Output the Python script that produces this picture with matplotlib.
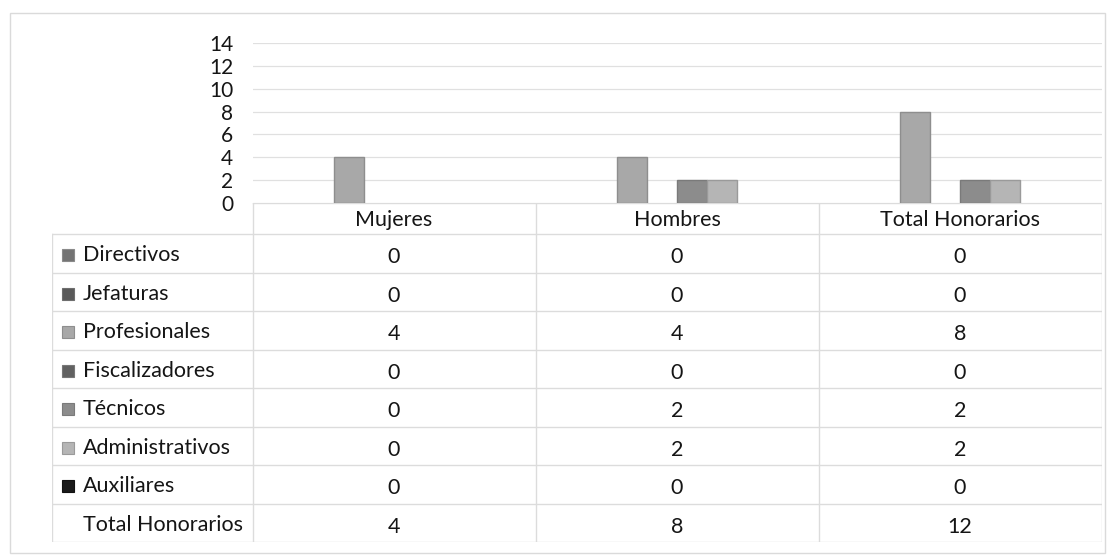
import numpy as np
import matplotlib
matplotlib.use("Agg")
import matplotlib.pyplot as plt
from matplotlib.patches import Rectangle

plt.rcParams['font.family'] = ['Lato', 'DejaVu Sans']

CATEGORIAS = ["Mujeres", "Hombres", "Total Honorarios"]
SERIES = ["Directivos", "Jefaturas", "Profesionales", "Fiscalizadores",
          "Técnicos", "Administrativos", "Auxiliares", "Total Honorarios"]

DIRECTIVOS = [0, 0, 0]
JEFATURAS = [0, 0, 0]
PROFESIONALES = [4, 4, 8]
FISCALIZADORES = [0, 0, 0]
TECNICOS = [0, 2, 2]
ADMINISTRATIVOS = [0, 2, 2]
AUXILIARES = [0, 0, 0]
TOTAL_HONORARIOS = [4, 8, 12]

Y_TICKS = [0, 2, 4, 6, 8, 10, 12, 14]

valores = [DIRECTIVOS, JEFATURAS, PROFESIONALES, FISCALIZADORES,
           TECNICOS, ADMINISTRATIVOS, AUXILIARES, TOTAL_HONORARIOS]
# colores de relleno (None = serie sin barra visible)
colores = ["#737373", "#595959", "#a8a8a8", "#616161",
           "#8c8c8c", "#b5b5b5", "#1a1a1a", None]
bordes = ["#8a8a8a", "#6e6e6e", "#8e8e8e", "#777777",
          "#7a7a7a", "#9a9a9a", "#111111", None]

FS = 15.5
TXT = "#151515"

W, H = 1115, 556
fig = plt.figure(figsize=(W / 100, H / 100), dpi=100)

# marco exterior del grafico
fig.patches.append(Rectangle((10 / W, 1 - 553 / H), 1095 / W, 540 / H,
                             transform=fig.transFigure, fill=False,
                             edgecolor="#dadada", linewidth=1))

# area de barras
x0, x1 = 252.5, 1101.5
y_top, y_bot = 43, 203
ax = fig.add_axes([x0 / W, 1 - y_bot / H, (x1 - x0) / W, (y_bot - y_top) / H])
n = len(SERIES)
ancho = 1 / (n + 1.5)
x = np.arange(len(CATEGORIAS))
for i, (vals, c, e) in enumerate(zip(valores, colores, bordes)):
    if c is None:
        continue
    vals = np.array(vals, dtype=float)
    lw = np.where(vals > 0, 1.0, 0.0)
    ax.bar(x + (i - (n - 1) / 2) * ancho, vals, width=ancho, color=c,
           edgecolor=e, linewidth=lw, zorder=3)
ax.set_xlim(-0.5, len(CATEGORIAS) - 0.5)
ax.set_ylim(0, 14)
ax.set_yticks(Y_TICKS)
ax.set_xticks([])
ax.tick_params(axis='y', length=0, pad=14, labelsize=15, labelcolor=TXT)
ax.yaxis.grid(True, color="#e0e0e0", linewidth=0.9)
ax.set_axisbelow(True)
for s in ax.spines.values():
    s.set_visible(False)

# tabla de datos
t_left, t_bot = 52, 542
fila = (t_bot - 234) / len(SERIES)
cab = (234 - y_bot) / fila
u = (x1 - x0) / len(CATEGORIAS)
xl = -0.5 - (x0 - t_left) / u
tab = fig.add_axes([t_left / W, 1 - t_bot / H, (x1 - t_left) / W, (t_bot - y_bot) / H])
tab.set_xlim(xl, len(CATEGORIAS) - 0.5)
tab.set_ylim(len(SERIES), -cab)
tab.axis('off')
lc = "#dcdcdc"
for k in range(len(SERIES) + 1):
    tab.plot([xl, len(CATEGORIAS) - 0.5], [k, k], color=lc, lw=1)
tab.plot([xl, xl], [0, len(SERIES)], color=lc, lw=1)
for k in range(len(CATEGORIAS) + 1):
    tab.plot([k - 0.5, k - 0.5], [-cab, len(SERIES)], color=lc, lw=1)
tab.plot([-0.5, len(CATEGORIAS) - 0.5], [-cab, -cab], color=lc, lw=1)

for j, cat in enumerate(CATEGORIAS):
    tab.text(j, -cab * 0.45, cat, ha='center', va='center', fontsize=FS,
             color=TXT)

for i, (nombre, vals, c, e) in enumerate(zip(SERIES, valores, colores, bordes)):
    yc = i + 0.55
    if c is not None:
        tab.plot([xl + 16.5 / u], [yc], marker='s', markersize=9,
                 markerfacecolor=c, markeredgecolor=e, markeredgewidth=0.8)
    tab.text(xl + 31 / u, yc, nombre, ha='left', va='center', fontsize=FS,
             color=TXT)
    for j, v in enumerate(vals):
        tab.text(j, yc + 0.05, str(v), ha='center', va='center', fontsize=FS,
                 color=TXT)

fig.savefig("out.png", dpi=100)
